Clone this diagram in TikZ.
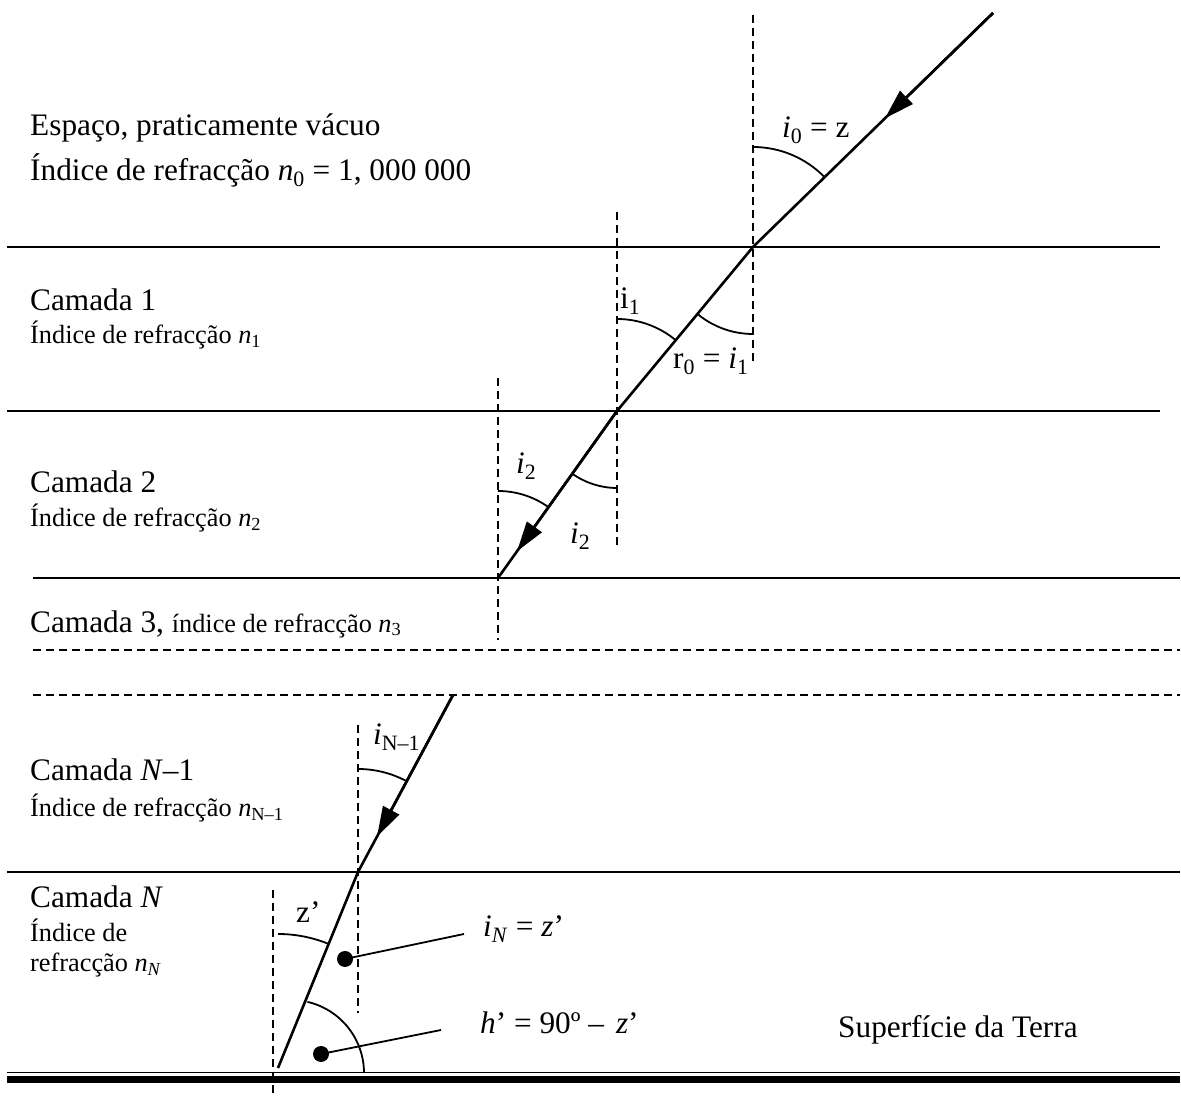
\documentclass[tikz,border=0pt]{standalone}
\usepackage{fontspec}
\setmainfont{Liberation Serif}
\usetikzlibrary{arrows.meta,calc}
\begin{document}
\begin{tikzpicture}[x=1pt,y=1pt,
  layer/.style={line width=1.6pt},
  dashedline/.style={line width=1.5pt,dash pattern=on 8pt off 5pt},
  ray/.style={line width=2.6pt},
  tipray/.style={line width=2.6pt,-{Triangle[length=30pt,width=18pt]}},
  anglearc/.style={line width=1.8pt},
  big/.style={font=\fontsize{31.3}{36}\selectfont,inner sep=0pt,anchor=west},
  small/.style={font=\fontsize{26.3}{30}\selectfont,inner sep=0pt,anchor=west},
  leader/.style={line width=1.8pt},
  dotst/.style={circle,fill=black,inner sep=0pt,minimum size=16pt}]
\useasboundingbox (0,0) rectangle (1181,1100);
% ray points
\coordinate (T0) at (993,1087);
\coordinate (P1) at (753,853);
\coordinate (P2) at (617,689);
\coordinate (P3) at (498,522);
\coordinate (Q0) at (453,405);
\coordinate (P4) at (358,228);
\coordinate (P5) at (278,32);
% horizontal layers
\coordinate (L1a) at (7,853);  \coordinate (L1b) at (1160,853);
\coordinate (L2a) at (7,689);  \coordinate (L2b) at (1160,689);
\coordinate (L3a) at (33,522); \coordinate (L3b) at (1180,522);
\coordinate (D1a) at (33,450); \coordinate (D1b) at (1180,450);
\coordinate (D2a) at (33,405); \coordinate (D2b) at (1180,405);
\coordinate (L4a) at (7,228);  \coordinate (L4b) at (1180,228);
\coordinate (G1a) at (7,27.5); \coordinate (G1b) at (1180,27.5);
\coordinate (G2a) at (7,20.5); \coordinate (G2b) at (1180,20.5);
\draw[layer] (L1a) -- (L1b);
\draw[layer] (L2a) -- (L2b);
\draw[layer] (L3a) -- (L3b);
\draw[dashedline] (D1a) -- (D1b);
\draw[dashedline] (D2a) -- (D2b);
\draw[layer] (L4a) -- (L4b);
\draw[line width=1.6pt] (G1a) -- (G1b);
\draw[line width=7pt] (G2a) -- (G2b);
% normals
\coordinate (N1a) at (753,1085); \coordinate (N1b) at (753,735);
\coordinate (N2a) at (617,888);  \coordinate (N2b) at (617,555);
\coordinate (N3a) at (498,722);  \coordinate (N3b) at (498,460);
\coordinate (N4a) at (358,375);  \coordinate (N4b) at (358,87);
\coordinate (N5a) at (273,210);  \coordinate (N5b) at (273,7);
\draw[dashedline] (N1a) -- (N1b);
\draw[dashedline] (N2a) -- (N2b);
\draw[dashedline] (N3a) -- (N3b);
\draw[dashedline] (N4a) -- (N4b);
\draw[dashedline] (N5a) -- (N5b);
% ray
\coordinate (A1) at ($(P1)!0.55!(T0)$);
\coordinate (A2) at ($(P3)!0.16!(P2)$);
\coordinate (A3) at ($(P4)!0.20!(Q0)$);
\draw[ray,line join=round] (T0) -- (P1) -- (P2) -- (P3);
\draw[ray,line join=round] (Q0) -- (P4) -- (P5);
\draw[tipray] (T0) -- (A1);
\draw[tipray] (P2) -- (A2);
\draw[tipray] (Q0) -- (A3);
% angle arcs
\draw[anglearc] ($(P1)+(90:100)$) arc[start angle=90,end angle=44.3,radius=100];
\draw[anglearc] ($(P2)+(90:92)$) arc[start angle=90,end angle=50.3,radius=92];
\draw[anglearc] ($(P1)+(230.3:87)$) arc[start angle=230.3,end angle=270,radius=87];
\draw[anglearc] ($(P3)+(90:87)$) arc[start angle=90,end angle=54.5,radius=87];
\draw[anglearc] ($(P2)+(234.5:77)$) arc[start angle=234.5,end angle=270,radius=77];
\draw[anglearc] ($(P4)+(90:103)$) arc[start angle=90,end angle=61.8,radius=103];
\draw[anglearc] ($(P5)+(90:134)$) arc[start angle=90,end angle=67.8,radius=134];
\coordinate (HC) at (291,27);
\draw[anglearc] ($(HC)+(77:73)$) arc[start angle=77,end angle=0,radius=73];
% dots and leaders
\node[dotst] (dot1) at (345,141) {};
\node[dotst] (dot2) at (321,46) {};
\coordinate (E1) at (464,166);
\coordinate (E2) at (441,70);
\draw[leader] (dot1.center) -- (E1);
\draw[leader] (dot2.center) -- (E2);
% left texts
\node[big] (t1) at (30,972) {Espaço, praticamente vácuo};
\node[big] (t2) at (30,930) {Índice de refracção \textit{n}\textsubscript{0} = 1, 000 000};
\node[big] (t3) at (30,800) {Camada 1};
\node[small] (t4) at (30,765) {Índice de refracção \textit{n}\textsubscript{1}};
\node[big] (t5) at (30,618) {Camada 2};
\node[small] (t6) at (30,582) {Índice de refracção \textit{n}\textsubscript{2}};
\node[big] (t7) at (30,476) {Camada 3, {\fontsize{26.3}{30}\selectfont índice de refracção \textit{n}\textsubscript{3}}};
\node[big] (t8) at (30,330) {Camada \textit{N}–1};
\node[small] (t9) at (30,292) {Índice de refracção \textit{n}\textsubscript{N–1}};
\node[big] (t10) at (30,203) {Camada \textit{N}};
\node[small] (t11) at (30,170) {Índice de};
\node[small] (t12) at (30,135) {refracção \textit{n}\textsubscript{\textit{N}}};
\node[big] (t13) at (838,70) {Superfície da Terra};
% angle labels
\node[big] (l1) at (782,970) {\textit{i}\textsubscript{0} = z};
\node[big] (l2) at (620,799) {i\textsubscript{1}};
\node[big] (l3) at (673,739) {r\textsubscript{0} = \textit{i}\textsubscript{1}};
\node[big] (l4) at (516,634) {\textit{i}\textsubscript{2}};
\node[big] (l5) at (570,564) {\textit{i}\textsubscript{2}};
\node[big] (l6) at (373,363) {\textit{i}\textsubscript{N–1}};
\node[big] (l7) at (296,188) {z’};
\node[big] (l8) at (483,171) {\textit{i}\textsubscript{\textit{N}} = \textit{z}’};
\node[big] (l9) at (480,77) {\textit{h}’ = 90º –\hspace{12pt}\textit{z}’};
\end{tikzpicture}
\end{document}
